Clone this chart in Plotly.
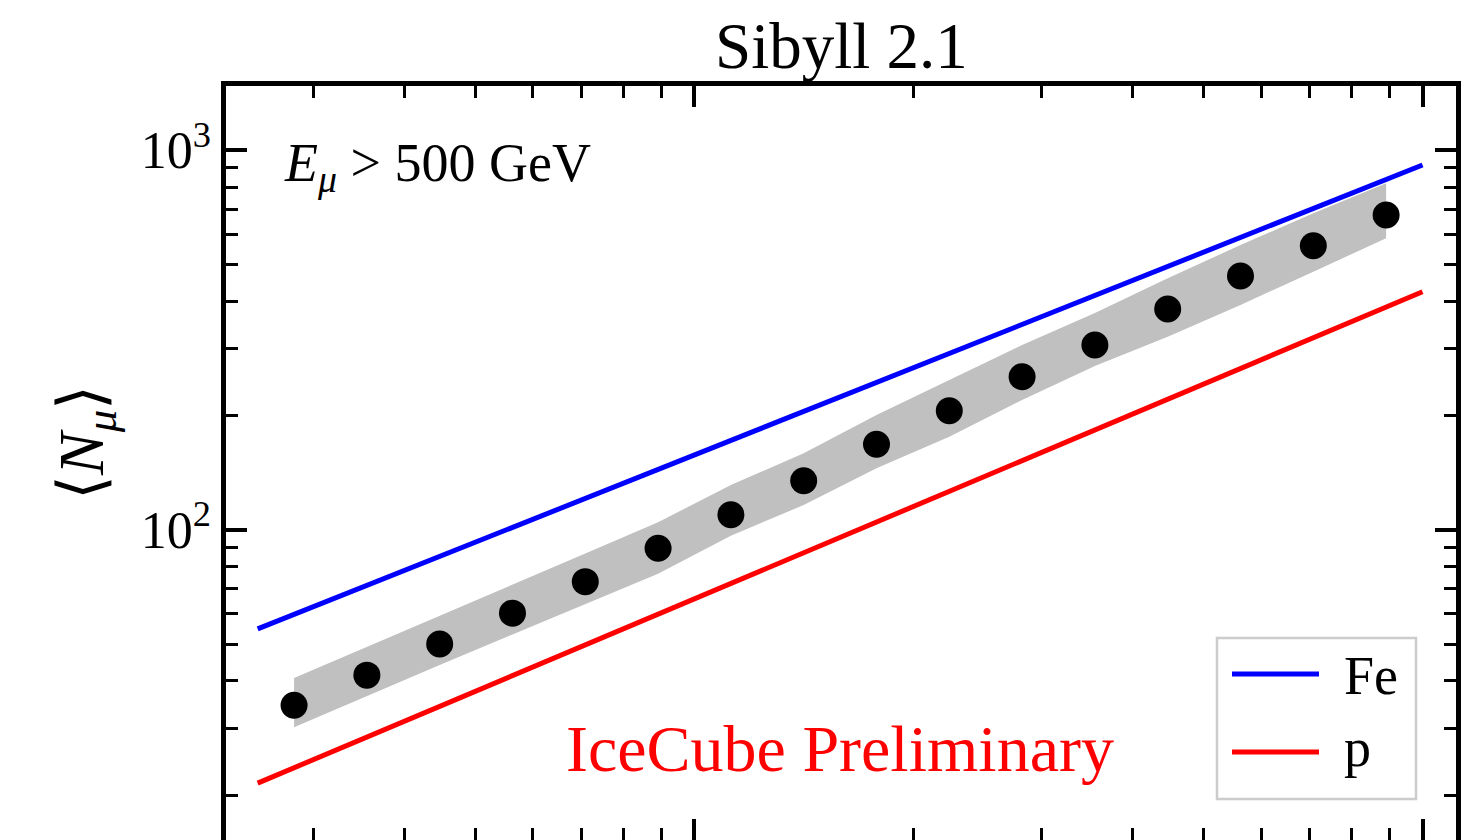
import plotly.graph_objects as go

# ---------------- data ----------------
lg_energy = [6.45, 6.55, 6.65, 6.75, 6.85, 6.95, 7.05, 7.15,
             7.25, 7.35, 7.45, 7.55, 7.65, 7.75, 7.85, 7.95]
n_mu = [34.5, 41.4, 50.0, 60.3, 73.0, 89.4, 109.6, 134.7,
        168.0, 206.0, 253.2, 306.9, 381.8, 466.5, 560.5, 675.3]
n_mu_upper = [40.7, 49.1, 59.4, 71.8, 86.6, 104.7, 131.2, 159.1,
              200.7, 248.2, 306.9, 372.6, 460.0, 562.9, 682.3, 818.7]
n_mu_lower = [30.2, 36.5, 44.0, 53.0, 63.7, 76.6, 96.5, 116.2,
              145.2, 175.9, 219.9, 270.2, 322.8, 391.2, 478.7, 586.3]

line_lg_energy = [6.4, 8.0]
fe_n_mu = [54.8, 914.8]
p_n_mu = [21.5, 424.0]

y_major = [100, 1000]
y_major_text = ["10<sup>2</sup>", "10<sup>3</sup>"]
y_minor = [20, 30, 40, 50, 60, 70, 80, 90, 200, 300, 400, 500, 600, 700, 800, 900]
x_major = [1e7, 1e8]
x_minor = [3e6, 4e6, 5e6, 6e6, 7e6, 8e6, 9e6, 2e7, 3e7, 4e7, 5e7, 6e7, 7e7, 8e7, 9e7]

energy = [10 ** v for v in lg_energy]
line_energy = [10 ** v for v in line_lg_energy]

# ---------------- layout geometry ----------------
W, H = 1481, 840
ML, MR, MT, MB = 226, 25, 86, 0
PW, PH = W - ML - MR, H - MT - MB


def px2x(px):
    return (px - ML) / PW


def py2y(py):
    return (H - MB - py) / PH


FONT = "Liberation Serif"

fig = go.Figure()

# uncertainty band
fig.add_trace(go.Scatter(x=energy, y=n_mu_lower, mode="lines",
                         line=dict(width=0, color="#c0c0c0"),
                         showlegend=False, hoverinfo="skip"))
fig.add_trace(go.Scatter(x=energy, y=n_mu_upper, mode="lines",
                         line=dict(width=0, color="#c0c0c0"),
                         fill="tonexty", fillcolor="#c0c0c0",
                         showlegend=False, hoverinfo="skip"))
# Fe and p lines
fig.add_trace(go.Scatter(x=line_energy, y=fe_n_mu, mode="lines", name="Fe",
                         line=dict(color="#0000ff", width=5), showlegend=False))
fig.add_trace(go.Scatter(x=line_energy, y=p_n_mu, mode="lines", name="p",
                         line=dict(color="#ff0000", width=5), showlegend=False))
# data points
fig.add_trace(go.Scatter(x=energy, y=n_mu, mode="markers", name="data",
                         marker=dict(color="black", size=27, line=dict(width=0)),
                         showlegend=False))

axis_common = dict(
    type="log", ticks="inside", tickcolor="black", tickwidth=4, ticklen=21,
    showline=True, linewidth=4.5, linecolor="black", mirror="ticks",
    showgrid=False, zeroline=False,
)

fig.update_layout(
    width=W, height=H,
    margin=dict(l=ML, r=MR, t=MT, b=MB, pad=0),
    paper_bgcolor="white", plot_bgcolor="white",
    font=dict(family=FONT, color="black"),
    showlegend=False,
    xaxis=dict(
        **axis_common, range=[6.3565, 8.0460],
        tickmode="array", tickvals=x_major, showticklabels=False,
        minor=dict(tickmode="array", tickvals=x_minor, ticks="inside",
                   ticklen=12, tickwidth=2.5, tickcolor="black", showgrid=False),
    ),
    yaxis=dict(
        **axis_common, range=[1.1826, 3.1694],
        tickmode="array", tickvals=y_major, ticktext=y_major_text,
        tickfont=dict(family=FONT, size=52, color="black"),
        minor=dict(tickmode="array", tickvals=y_minor, ticks="inside",
                   ticklen=12, tickwidth=2.5, tickcolor="black", showgrid=False),
    ),
)

annotations = [
    dict(text="Sibyll 2.1", x=px2x(841), y=py2y(46), xref="paper", yref="paper",
         xanchor="center", yanchor="middle", showarrow=False,
         font=dict(family=FONT, size=65, color="black")),
    dict(text="<i>E</i><sub><i>μ</i></sub> > 500 GeV", x=px2x(282), y=py2y(166),
         xref="paper", yref="paper", xanchor="left", yanchor="middle", showarrow=False,
         font=dict(family=FONT, size=54, color="black")),
    dict(text="IceCube Preliminary", x=px2x(840), y=py2y(748), xref="paper", yref="paper",
         xanchor="center", yanchor="middle", showarrow=False,
         font=dict(family=FONT, size=66, color="#ff0000")),
    dict(text="⟨<i>N</i><sub><i>μ</i></sub>⟩", x=px2x(86), y=py2y(443),
         xref="paper", yref="paper", xanchor="center", yanchor="middle",
         textangle=-90, showarrow=False,
         font=dict(family=FONT, size=64, color="black")),
    dict(text="Fe", x=px2x(1342), y=py2y(676), xref="paper", yref="paper",
         xanchor="left", yanchor="middle", showarrow=False,
         font=dict(family=FONT, size=54, color="black")),
    dict(text="p", x=px2x(1342), y=py2y(748), xref="paper", yref="paper",
         xanchor="left", yanchor="middle", showarrow=False,
         font=dict(family=FONT, size=54, color="black")),
]
fig.update_layout(annotations=annotations)

shapes = [
    dict(type="rect", xref="paper", yref="paper",
         x0=px2x(1217), x1=px2x(1416), y0=py2y(799), y1=py2y(638),
         line=dict(color="#cccccc", width=2.5), fillcolor="white", layer="above"),
    dict(type="line", xref="paper", yref="paper",
         x0=px2x(1232), x1=px2x(1319), y0=py2y(674), y1=py2y(674),
         line=dict(color="#0000ff", width=5), layer="above"),
    dict(type="line", xref="paper", yref="paper",
         x0=px2x(1232), x1=px2x(1319), y0=py2y(752), y1=py2y(752),
         line=dict(color="#ff0000", width=5), layer="above"),
]
fig.update_layout(shapes=shapes)

fig.write_html("out.html")
